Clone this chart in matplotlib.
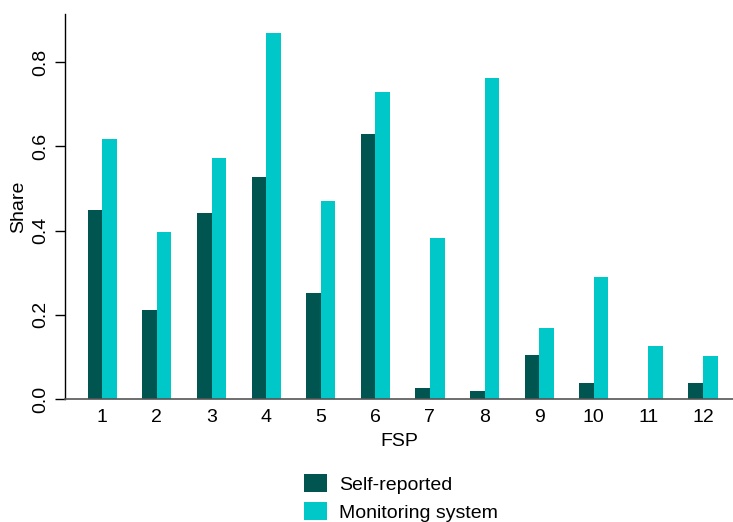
import numpy as np
import matplotlib
matplotlib.use("Agg")
import matplotlib.pyplot as plt

plt.rcParams['font.family'] = ['Liberation Sans', 'DejaVu Sans']

fsp = [str(i) for i in range(1, 13)]
self_reported = [0.449, 0.211, 0.442, 0.528, 0.252, 0.629, 0.026, 0.018, 0.104, 0.039, 0.0, 0.039]
monitoring = [0.617, 0.396, 0.571, 0.870, 0.469, 0.728, 0.383, 0.762, 0.169, 0.289, 0.127, 0.101]
series_names = ["Self-reported", "Monitoring system"]
yticks = [0.0, 0.2, 0.4, 0.6, 0.8]

dark = "#005550"
cyan = "#00C8C8"
fs = 14

W, H = 733, 522
fig = plt.figure(figsize=(W / 100, H / 100), dpi=100)
ax = fig.add_axes([65 / W, 123 / H, (W - 65) / W, 385 / H])

x = np.arange(1, len(fsp) + 1)
w = 0.267
b1 = ax.bar(x - w / 2, self_reported, width=w, color=dark, linewidth=0, label=series_names[0])
b2 = ax.bar(x + w / 2, monitoring, width=w, color=cyan, linewidth=0, label=series_names[1])

ax.set_xlim(0.317, 12.55)
ax.set_ylim(0, 0.914)

ax.spines['top'].set_visible(False)
ax.spines['right'].set_visible(False)
ax.spines['left'].set_color('black')
ax.spines['left'].set_linewidth(1.0)
ax.spines['bottom'].set_color('#555555')
ax.spines['bottom'].set_linewidth(1.2)

ax.set_yticks(yticks)
ax.set_yticklabels([f"{v:.1f}" for v in yticks], rotation=90, va='center', fontsize=fs)
ax.tick_params(axis='y', length=7, width=1, pad=4, color='black')
ax.set_xticks(x)
ax.set_xticklabels(fsp, fontsize=fs)
ax.tick_params(axis='x', length=0, pad=7)

ax.set_xlabel("FSP", fontsize=fs, labelpad=5)
ax.set_ylabel("Share", fontsize=fs)
ax.yaxis.set_label_coords(-0.057, 0.5)

fig.legend(handles=[b1, b2], labels=series_names, loc='upper left',
           bbox_to_anchor=(304 / W, 1 - 474 / H), frameon=False,
           fontsize=fs, borderpad=0, borderaxespad=0,
           handlelength=1.2, handleheight=1.05, handletextpad=0.6,
           labelspacing=0.45)

fig.savefig("out.png", dpi=100)
